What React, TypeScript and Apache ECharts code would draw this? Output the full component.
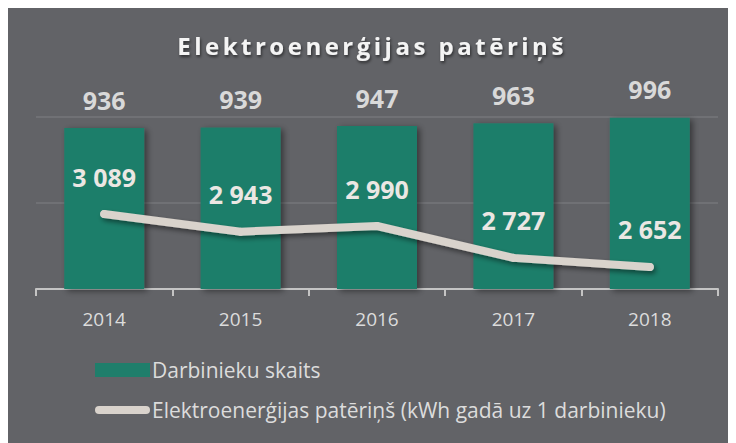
import React, { useEffect, useRef } from "react";
import * as echarts from "echarts";

const years = ["2014", "2015", "2016", "2017", "2018"];
const employees = [936, 939, 947, 963, 996];
const consumption = [3089, 2943, 2990, 2727, 2652];
const titleText = "Elektroenerģijas patēriņš";
const barName = "Darbinieku skaits";
const lineName = "Elektroenerģijas patēriņš (kWh gadā uz 1 darbinieku)";

const FONT = "'Open Sans', Lato, sans-serif";
const fmt = (v: number) => {
  const s = String(v);
  return s.length > 3 ? s.slice(0, s.length - 3) + " " + s.slice(-3) : s;
};

export default function App() {
  const ref = useRef<HTMLDivElement>(null);
  useEffect(() => {
    if (!ref.current) return;
    const chart = echarts.init(ref.current, undefined, { renderer: "svg" });
    chart.setOption({
      animation: false,
      backgroundColor: "#626367",
      textStyle: { fontFamily: FONT },
      title: {
        text: titleText,
        left: "center",
        top: 25,
        padding: 0,
        textStyle: {
          fontFamily: FONT,
          fontSize: 24,
          fontWeight: "bold",
          color: "#f4f4f4",
          textShadowColor: "rgba(0,0,0,0.55)",
          textShadowBlur: 3,
          textShadowOffsetX: 1,
          textShadowOffsetY: 2,
        },
      },
      legend: {
        orient: "vertical",
        left: 87,
        top: 351,
        itemWidth: 55,
        itemHeight: 14,
        itemGap: 18,
        padding: 0,
        symbolKeepAspect: true,
        textStyle: { color: "#dcdcdc", fontSize: 21, fontFamily: FONT, lineHeight: 22, padding: [0, 0, 0, -3] },
        data: [
          { name: barName, icon: "rect", itemStyle: { color: "#1f7e6b" } },
          {
            name: lineName,
            icon: "path://M4,0 H51 A4,4 0 0 1 51,8 H4 A4,4 0 0 1 4,0 Z",
            itemStyle: { color: "#d9d3cc" },
          },
        ],
      },
      grid: { left: 28, top: 109, width: 682, height: 172 },
      xAxis: {
        type: "category",
        data: years,
        axisLine: { show: true, lineStyle: { color: "#c4c4c4", width: 2 } },
        axisTick: { show: true, length: 7, lineStyle: { color: "#c4c4c4", width: 2 } },
        axisLabel: { color: "#dcdcdc", fontSize: 19, fontFamily: FONT, margin: 20 },
      },
      yAxis: [
        {
          type: "value",
          min: 0,
          max: 1000,
          interval: 500,
          axisLabel: { show: false },
          axisLine: { show: false },
          axisTick: { show: false },
          splitLine: { lineStyle: { color: "rgba(255,255,255,0.13)", width: 1.5 } },
        },
        {
          type: "value",
          min: 2470,
          max: 3890,
          show: false,
          splitLine: { show: false },
        },
      ],
      series: [
        {
          name: barName,
          type: "bar",
          data: employees,
          barWidth: 80,
          itemStyle: {
            color: "#1f7e6b",
            shadowColor: "rgba(0,0,0,0.45)",
            shadowBlur: 6,
            shadowOffsetX: 3,
            shadowOffsetY: 2,
          },
          label: {
            show: true,
            position: "top",
            distance: 16,
            color: "#d9d9d9",
            fontSize: 25,
            fontWeight: "bold",
            fontFamily: FONT,
          },
        },
        {
          name: lineName,
          type: "line",
          yAxisIndex: 1,
          data: consumption,
          symbol: "circle",
          symbolSize: 8,
          showSymbol: true,
          lineStyle: {
            color: "#d9d3cc",
            width: 8,
            cap: "round",
            join: "round",
            shadowColor: "rgba(0,0,0,0.45)",
            shadowBlur: 5,
            shadowOffsetX: 2,
            shadowOffsetY: 3,
          },
          itemStyle: { color: "#d9d3cc" },
          label: {
            show: true,
            position: "top",
            distance: 21,
            color: "#ebe7e3",
            fontSize: 25,
            fontWeight: "bold",
            fontFamily: FONT,
            formatter: (p: any) => fmt(p.value),
          },
        },
      ],
    });
    const texts = ref.current.querySelectorAll("text");
    texts.forEach((t) => {
      if (t.textContent === titleText) {
        (t as SVGTextElement).style.letterSpacing = "3.5px";
      }
    });
    return () => chart.dispose();
  }, []);
  return <div ref={ref} style={{ width: 728, height: 435 }} />;
}
